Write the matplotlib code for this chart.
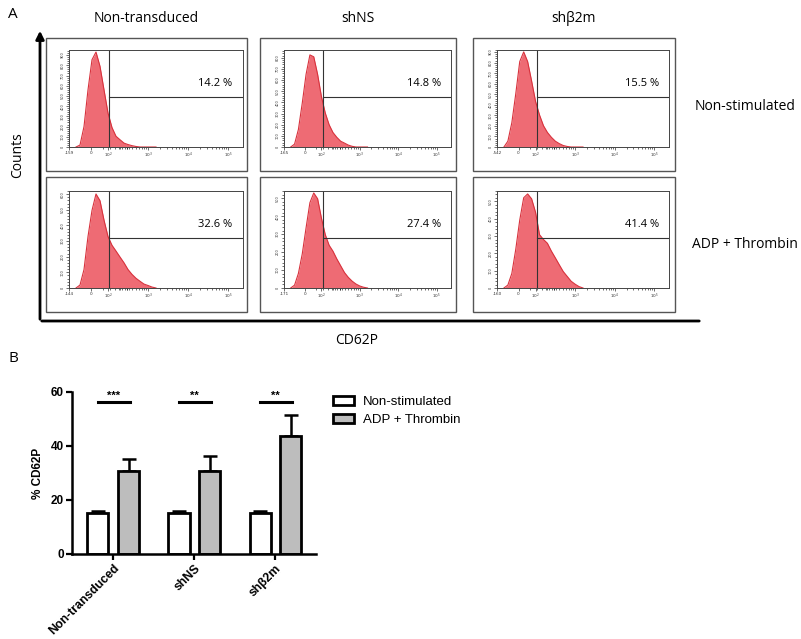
import numpy as np
import matplotlib

matplotlib.use("Agg")
import matplotlib.pyplot as plt
from matplotlib.patches import Rectangle

W, H = 801, 639

# ---- panel A: CD62P histograms (x in biexponential "decade" units) ----
hist_x = [1.2, 1.3, 1.4, 1.5, 1.6, 1.7, 1.8, 1.9, 2.0, 2.1, 2.2,
          2.3, 2.4, 2.5, 2.6, 2.7, 2.8, 2.9, 3.0, 3.1, 3.2]
col_titles = ["Non-transduced", "shNS", "shβ2m"]
row_titles = ["Non-stimulated", "ADP + Thrombin"]
counts_nonstim = [
    [0, 19, 200, 560, 855, 930, 790, 560, 333, 190, 105, 71, 38, 24, 13, 5, 0, 0, 0, 0, 0],
    [0, 26, 157, 392, 652, 826, 809, 652, 452, 305, 200, 130, 87, 52, 35, 17, 6, 0, 0, 0, 0],
    [0, 55, 230, 506, 810, 902, 810, 626, 432, 304, 202, 138, 92, 55, 32, 14, 5, 0, 0, 0, 0],
]
counts_stim = [
    [0, 19, 118, 329, 496, 601, 558, 434, 329, 273, 236, 198, 161, 118, 87, 62, 43, 25, 16, 6, 0],
    [0, 16, 81, 189, 335, 475, 529, 497, 389, 297, 238, 205, 162, 124, 86, 59, 38, 22, 11, 4, 0],
    [0, 17, 84, 224, 392, 521, 543, 515, 437, 308, 280, 258, 213, 174, 134, 95, 67, 39, 22, 8, 0],
]
ymax_nonstim = [950, 870, 920]
ymax_stim = [620, 540, 560]
pct_nonstim = ["14.2 %", "14.8 %", "15.5 %"]
pct_stim = ["32.6 %", "27.4 %", "41.4 %"]
xmin_labels_nonstim = ["-159", "-165", "-542"]
xmin_labels_stim = ["-144", "-171", "-160"]

# ---- panel B: % CD62P bars ----
groups = ["Non-transduced", "shNS", "shβ2m"]
nonstim_mean = [15.2, 15.3, 15.3]
nonstim_err = [0.6, 0.5, 0.5]
stim_mean = [30.7, 30.6, 43.8]
stim_err = [4.5, 5.6, 7.7]
sig_marks = ["***", "**", "**"]
sig_level = 56.4

fig = plt.figure(figsize=(W / 100, H / 100), dpi=100)


def px_axes(left, top, right, bottom, **kw):
    return fig.add_axes([left / W, 1 - bottom / H, (right - left) / W, (bottom - top) / H], **kw)


def px_text(x, y, s, **kw):
    fig.text(x / W, 1 - y / H, s, **kw)


# overlay for frames / big arrows
over = px_axes(0, 0, W, H, zorder=0)
over.set_xlim(0, W)
over.set_ylim(H, 0)
over.axis("off")

sans = ["Open Sans", "DejaVu Sans"]
px_text(8, 14, "A", fontsize=11, family=sans, va="center")
px_text(8, 358, "B", fontsize=11, family=sans, va="center")

col_outer = [(46, 247), (260, 456), (473, 675)]
col_inner = [(69, 243), (284, 451), (497, 669)]
row_outer = [(38, 171), (177, 312)]
row_inner = [(50, 147), (191, 288)]
row_y_text = [106, 245]

for c, (l, r) in enumerate(col_outer):
    px_text((l + r) / 2, 18, col_titles[c], fontsize=10, family=sans, ha="center", va="center")
    for (t, b) in row_outer:
        over.add_patch(Rectangle((l, t), r - l, b - t, fill=False, ec="#555555", lw=1.0))

for rr, name in enumerate(row_titles):
    px_text(745, row_y_text[rr], name, fontsize=10, family=sans, ha="center", va="center")

over.annotate("", xy=(40, 28), xytext=(40, 322),
              arrowprops=dict(arrowstyle="-|>", lw=2, color="black", mutation_scale=12))
over.annotate("", xy=(702, 321), xytext=(39, 321),
              arrowprops=dict(arrowstyle="-", lw=2, color="black"))
px_text(18, 155, "Counts", fontsize=10, family=sans, rotation=90, ha="center", va="center")
px_text(357, 340, "CD62P", fontsize=10, family=sans, ha="center", va="center")

xlo, xhi = 1.025, 5.375
gate_x = 2.03
decades = [2, 3, 4, 5]
minor_x = [d + np.log10(k) for d in [1.57, 2, 3, 4] for k in range(2, 10) if d + np.log10(k) < xhi]

for rr in range(2):
    counts_row = counts_nonstim if rr == 0 else counts_stim
    ymax_row = ymax_nonstim if rr == 0 else ymax_stim
    pct_row = pct_nonstim if rr == 0 else pct_stim
    xmin_row = xmin_labels_nonstim if rr == 0 else xmin_labels_stim
    t, b = row_inner[rr]
    for c in range(3):
        l, r = col_inner[c]
        ax = px_axes(l, t, r, b)
        ax.fill_between(hist_x, counts_row[c], color="#ee6b74", lw=0)
        ax.plot(hist_x, counts_row[c], color="#d8323d", lw=0.8)
        ax.set_xlim(xlo, xhi)
        ax.set_ylim(0, ymax_row[c])
        ymid = ymax_row[c] * 0.52
        ax.plot([gate_x, gate_x], [0, ymax_row[c]], color="#333333", lw=0.8)
        ax.plot([gate_x, xhi], [ymid, ymid], color="#333333", lw=0.8)
        ax.text(0.94, 0.65, pct_row[c], transform=ax.transAxes, ha="right", va="center",
                fontsize=8, family=sans)
        ax.set_xticks([xlo, 1.57] + decades)
        ax.set_xticklabels([xmin_row[c], "0", r"$10^2$", r"$10^3$", r"$10^4$", r"$10^5$"],
                           fontsize=3)
        ax.set_xticks(minor_x, minor=True)
        yt = list(range(0, ymax_row[c] + 1, 100))
        ax.set_yticks(yt)
        ax.set_yticklabels([str(v) for v in yt], fontsize=2.5, rotation=90, va="center")
        ax.set_yticks(list(range(0, ymax_row[c] + 1, 20)), minor=True)
        ax.tick_params(length=2, width=0.5, pad=1, colors="#333333")
        ax.tick_params(which="minor", length=1.2, width=0.4)
        for sp in ax.spines.values():
            sp.set_linewidth(0.7)
            sp.set_color("#444444")

# ---- panel B ----
arial = ["Liberation Sans", "DejaVu Sans"]
axb = px_axes(72, 392, 316, 554)
pos = np.arange(len(groups))
bw, off = 0.26, 0.19
axb.bar(pos - off, nonstim_mean, bw, color="white", edgecolor="black", lw=2, zorder=2)
axb.bar(pos + off, stim_mean, bw, color="#bdbdbd", edgecolor="black", lw=2, zorder=2)
axb.errorbar(pos - off, nonstim_mean, yerr=[[0] * 3, nonstim_err], fmt="none", ecolor="black",
             elinewidth=1.8, capsize=5, capthick=1.8, zorder=1)
axb.errorbar(pos + off, stim_mean, yerr=[[0] * 3, stim_err], fmt="none", ecolor="black",
             elinewidth=1.8, capsize=5, capthick=1.8, zorder=1)
for i, s in enumerate(sig_marks):
    axb.plot([i - 0.19, i + 0.2], [sig_level, sig_level], color="black", lw=2.2, clip_on=False)
    axb.text(i, sig_level + 0.5, s, ha="center", va="bottom", fontsize=8, fontweight="bold",
             family=arial)
axb.set_xlim(-0.51, 2.5)
axb.set_ylim(0, 60)
axb.set_yticks([0, 20, 40, 60])
axb.set_xticks(pos)
axb.set_xticklabels(groups, rotation=45, ha="right", rotation_mode="anchor",
                    fontsize=8.8, fontweight="bold", family=arial)
for lab in axb.get_yticklabels():
    lab.set_fontweight("bold")
    lab.set_family(arial)
    lab.set_fontsize(8.5)
axb.tick_params(width=1.6, length=4, pad=2)
axb.spines["top"].set_visible(False)
axb.spines["right"].set_visible(False)
axb.spines["left"].set_linewidth(1.8)
axb.spines["bottom"].set_linewidth(1.8)
axb.set_ylabel("% CD62P", fontsize=8.5, fontweight="bold", family=arial, labelpad=5)

axb.legend(handles=[Rectangle((0, 0), 1, 1, fc="white", ec="black", lw=2),
                    Rectangle((0, 0), 1, 1, fc="#bdbdbd", ec="black", lw=2)],
           labels=["Non-stimulated", "ADP + Thrombin"], loc="upper left",
           bbox_to_anchor=(1.02, 1.05), frameon=False, prop={"family": arial, "size": 9.5},
           handlelength=1.6, handleheight=0.7, handletextpad=0.7, labelspacing=0.45)

fig.savefig("out.png", dpi=100)
